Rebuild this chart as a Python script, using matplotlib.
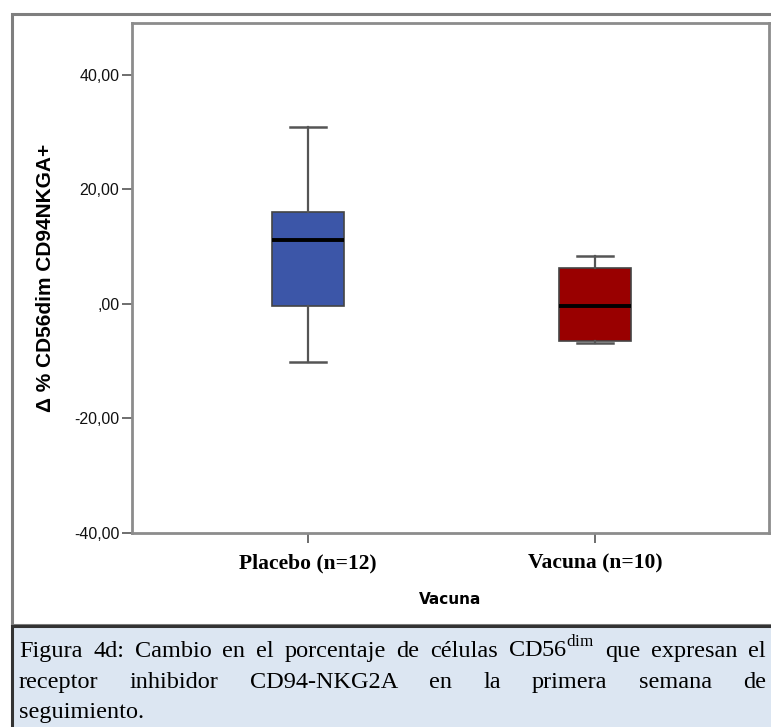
import matplotlib
matplotlib.use("Agg")
import matplotlib.pyplot as plt
from matplotlib.patches import Rectangle

plt.rcParams["mathtext.fontset"] = "custom"
plt.rcParams["mathtext.rm"] = "Liberation Serif"

# Box statistics (whisker low, Q1, median, Q3, whisker high)
groups = ["Placebo (n=12)", "Vacuna (n=10)"]
whislo = [-10.2, -6.9]
q1 = [-0.3, -6.5]
med = [11.2, -0.4]
q3 = [16.1, 6.3]
whishi = [30.8, 8.4]
box_colors = ["#3c56a8", "#990000"]

yticks = [-40, -20, 0, 20, 40]
ytick_labels = ["-40,00", "-20,00", ",00", "20,00", "40,00"]

caption_lines = [
    "Figura 4d: Cambio en el porcentaje de células CD56$^{\\mathrm{dim}}$ que expresan el",
    "receptor inhibidor CD94-NKG2A en la primera semana de",
    "seguimiento.",
]

W, H = 771, 727
fig = plt.figure(figsize=(W / 100, H / 100), dpi=100)

# outer frame of the chart panel and caption box
fig.patches.append(Rectangle((12 / W, 1 - 625 / H), (W + 5 - 12) / W, (625 - 14) / H,
                             transform=fig.transFigure, fill=False,
                             edgecolor="#7f7f7f", linewidth=2.2))
fig.patches.append(Rectangle((12 / W, -0.01), (W + 5 - 12) / W, 0.01 + (727 - 626) / H,
                             transform=fig.transFigure, facecolor="#dce6f2",
                             edgecolor="#333333", linewidth=2.2))

ax = fig.add_axes([132 / W, 1 - 533 / H, (769 - 132) / W, (533 - 23) / H])

stats = []
for i, g in enumerate(groups):
    stats.append({"label": g, "whislo": whislo[i], "q1": q1[i], "med": med[i],
                  "q3": q3[i], "whishi": whishi[i], "fliers": []})

bp = ax.bxp(stats, positions=[1, 2], widths=0.25, patch_artist=True,
            showfliers=False,
            boxprops=dict(edgecolor="#444444", linewidth=1.2),
            medianprops=dict(color="black", linewidth=2.8),
            whiskerprops=dict(color="#555555", linewidth=1.6),
            capprops=dict(color="#555555", linewidth=1.8),
            capwidths=0.125)
for patch, c in zip(bp["boxes"], box_colors):
    patch.set_facecolor(c)

ax.set_xlim(0.387, 2.606)
ax.set_ylim(-40, 49.0)
ax.set_yticks(yticks)
ax.set_yticklabels(ytick_labels, family="Liberation Sans", fontsize=11.5, color="#111111")
ax.set_xticks([1, 2])
ax.set_xticklabels(groups, family="Liberation Serif", fontweight="bold", fontsize=15.5)
ax.tick_params(axis="both", direction="out", length=7, width=1.2, color="#555555")
ax.tick_params(axis="y", pad=2)
ax.tick_params(axis="x", pad=8)
for s in ax.spines.values():
    s.set_color("#8c8c8c")
    s.set_linewidth(2)

ax.set_ylabel("Δ % CD56dim CD94NKGA+", family="Liberation Sans", fontweight="bold",
              fontsize=15, labelpad=14)
ax.set_xlabel("Vacuna", family="DejaVu Sans", fontweight="bold", fontsize=11, labelpad=13)


def put_line(text, y, justify):
    """Draw one caption line, spreading the words across the box if justify."""
    x0, x1 = 19 / W, 766 / W
    kw = dict(family="Liberation Serif", fontsize=17.5, va="baseline", ha="left",
              transform=fig.transFigure)
    if not justify:
        fig.text(x0, y, text, **kw)
        return
    words = text.split(" ")
    r = fig.canvas.get_renderer()
    arts = [fig.text(x0, y, w, **kw) for w in words]
    widths = [a.get_window_extent(r).width / W for a in arts]
    gap = (x1 - x0 - sum(widths)) / (len(words) - 1)
    x = x0
    for a, w in zip(arts, widths):
        a.set_x(x)
        x += w + gap


put_line(caption_lines[0], 1 - 657 / H, True)
put_line(caption_lines[1], 1 - 688 / H, True)
put_line(caption_lines[2], 1 - 718 / H, False)

fig.savefig("out.png", dpi=100)
